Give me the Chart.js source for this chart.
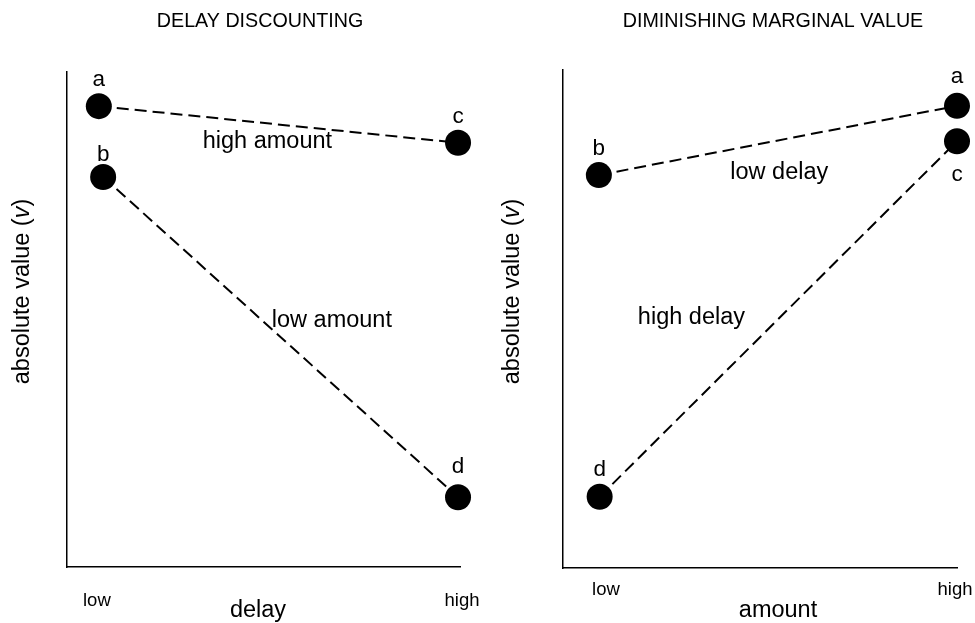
<!DOCTYPE html>
<html>
<head>
<meta charset="utf-8">
<script src="https://cdn.jsdelivr.net/npm/chart.js@4.4.1/dist/chart.umd.min.js"></script>
<style>
  html, body { margin: 0; padding: 0; background: #fff; }
  #wrap { position: relative; width: 975px; height: 623px; }
  .panel { position: absolute; top: 0; height: 623px; }
</style>
</head>
<body>
<div id="wrap">
  <div class="panel" style="left:0;width:487px"><canvas id="delayChart" width="487" height="623"></canvas></div>
  <div class="panel" style="left:487px;width:488px"><canvas id="amountChart" width="488" height="623"></canvas></div>
</div>
<script>
// chart data
const panelTitles = ['DELAY DISCOUNTING', 'DIMINISHING MARGINAL VALUE'];
const xAxisTitles = ['delay', 'amount'];
const yAxisTitle = ['absolute value (', 'v', ')'];
const tickLabels = ['low', 'high'];
const delayTickValues = [0.76, 10.05];
const amountTickValues = [1.09, 9.95];

// left panel: delay discounting
const highAmount = [{ x: 0.81, y: 9.31 }, { x: 9.95, y: 8.57 }];
const highAmountLetters = ['a', 'c'];
const lowAmount = [{ x: 0.92, y: 7.88 }, { x: 9.95, y: 1.41 }];
const lowAmountLetters = ['b', 'd'];
const delayLineLabels = [
  { x: 5.10, y: 8.46, text: 'high amount' },
  { x: 6.74, y: 4.85, text: 'low amount' }
];

// right panel: diminishing marginal value
const lowDelay = [{ x: 0.91, y: 7.89 }, { x: 10, y: 9.28 }];
const lowDelayLetters = ['b', 'a'];
const highDelay = [{ x: 0.93, y: 1.43 }, { x: 10, y: 8.57 }];
const highDelayLetters = ['d', 'c'];
const amountLineLabels = [
  { x: 5.49, y: 7.81, text: 'low delay' },
  { x: 3.26, y: 4.90, text: 'high delay' }
];

const FONT = '"Liberation Sans", Arial, Helvetica, sans-serif';
const TICK_SIZE = 18.5;
Chart.defaults.font.family = FONT;
Chart.defaults.color = '#000';

function dashedSet(data, letters) {
  return {
    data: data,
    letters: letters,
    showLine: true,
    borderColor: '#000',
    borderWidth: 2,
    borderDash: [12, 6],
    pointRadius: 13,
    pointHoverRadius: 13,
    pointBackgroundColor: '#000',
    pointBorderWidth: 0,
    clip: false
  };
}

// draws titles, axis titles, point letters and line labels
const panelText = {
  id: 'panelText',
  afterDraw(chart, args, opts) {
    const { ctx, chartArea, scales: { x, y } } = chart;
    ctx.save();
    ctx.fillStyle = '#000';
    ctx.textBaseline = 'alphabetic';
    ctx.textAlign = 'center';

    ctx.font = '19.7px ' + FONT;
    ctx.fillText(opts.title, opts.titleX, 27);

    ctx.font = '23.5px ' + FONT;
    ctx.fillText(opts.xTitle, opts.xTitleX, 617);

    // letters over the points
    ctx.font = '22.5px ' + FONT;
    chart.data.datasets.forEach((ds, i) => {
      const meta = chart.getDatasetMeta(i);
      meta.data.forEach((pt, j) => {
        const letter = ds.letters[j];
        const dy = (opts.letterDy && opts.letterDy[letter] !== undefined) ? opts.letterDy[letter] : -20;
        ctx.fillText(letter, pt.x, pt.y + dy);
      });
    });

    // line labels
    ctx.font = '23.5px ' + FONT;
    opts.lineLabels.forEach(l => {
      ctx.fillText(l.text, x.getPixelForValue(l.x), y.getPixelForValue(l.y));
    });

    // rotated y title with italic v
    ctx.translate(chartArea.left + opts.yTitleDx, 291.5);
    ctx.rotate(-Math.PI / 2);
    ctx.textAlign = 'left';
    const fonts = ['23.5px ' + FONT, 'italic 23.5px ' + FONT, '23.5px ' + FONT];
    let total = 0;
    const widths = yAxisTitle.map((t, k) => {
      ctx.font = fonts[k];
      const w = ctx.measureText(t).width;
      total += w;
      return w;
    });
    let cx = -total / 2;
    yAxisTitle.forEach((t, k) => {
      ctx.font = fonts[k];
      ctx.fillText(t, cx, 0);
      cx += widths[k];
    });
    ctx.restore();
  }
};

function makeChart(id, datasets, tickValues, padding, tickPadding, text) {
  return new Chart(document.getElementById(id), {
    type: 'scatter',
    data: { datasets: datasets },
    options: {
      responsive: false,
      animation: false,
      events: [],
      layout: { padding: padding },
      plugins: {
        legend: { display: false },
        tooltip: { enabled: false },
        panelText: text
      },
      scales: {
        x: {
          type: 'linear',
          min: 0,
          max: 10,
          grid: { display: false, drawTicks: false },
          border: { display: true, color: '#000', width: 1.5 },
          afterBuildTicks: scale => { scale.ticks = tickValues.map(v => ({ value: v })); },
          afterFit: scale => {
            // keep the plot box where the reference has it
            scale.paddingLeft = 0;
            scale.paddingRight = 0;
            scale.height = TICK_SIZE * 1.2 + tickPadding;
          },
          ticks: {
            autoSkip: false,
            maxRotation: 0,
            padding: tickPadding,
            font: { size: TICK_SIZE },
            color: '#000',
            callback: (value, index) => tickLabels[index]
          }
        },
        y: {
          type: 'linear',
          min: 0,
          max: 10,
          grid: { display: false, drawTicks: false },
          border: { display: true, color: '#000', width: 1.5 },
          ticks: { display: false }
        }
      }
    },
    plugins: [panelText]
  });
}

makeChart('delayChart',
  [dashedSet(highAmount, highAmountLetters), dashedSet(lowAmount, lowAmountLetters)],
  delayTickValues,
  { left: 67, right: 27, top: 72, bottom: 11.4 },
  22.4,
  {
    title: panelTitles[0], titleX: 260,
    xTitle: xAxisTitles[0], xTitleX: 258,
    yTitleDx: -38,
    letterDy: { b: -16, d: -24 },
    lineLabels: delayLineLabels
  });

makeChart('amountChart',
  [dashedSet(lowDelay, lowDelayLetters), dashedSet(highDelay, highDelayLetters)],
  amountTickValues,
  { left: 76, right: 18, top: 70, bottom: 21.9 },
  10.9,
  {
    title: panelTitles[1], titleX: 286,
    xTitle: xAxisTitles[1], xTitleX: 291,
    yTitleDx: -44,
    letterDy: { a: -23, c: 40, d: -21 },
    lineLabels: amountLineLabels
  });
</script>
</body>
</html>
